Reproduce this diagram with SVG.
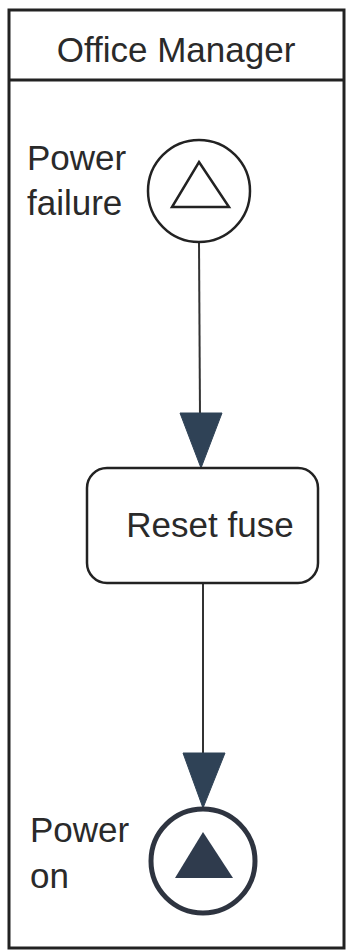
<svg xmlns="http://www.w3.org/2000/svg" width="347" height="951" viewBox="0 0 347 951">
<defs>
<style>
text{font-family:"Liberation Sans",Arial,sans-serif;font-size:35px;fill:#2a2a2a}
.ln{stroke:#333;stroke-width:2;fill:none}
.ah{fill:#2f4256;stroke:#2f4256;stroke-width:1}
</style>
</defs>
<rect width="347" height="951" fill="#fff"/>
<g id="lane">
<rect x="9" y="10" width="335" height="938" fill="none" stroke="#222" stroke-width="3"/>
<line x1="9" y1="80" x2="344" y2="80" stroke="#222" stroke-width="3"/>
<text x="176" y="62" text-anchor="middle">Office Manager</text>
</g>
<g id="connectors">
<line class="ln" x1="199" y1="242" x2="200" y2="415"/>
<polygon class="ah" points="180,413 222,413 201,468"/>
<line class="ln" x1="203" y1="583" x2="203" y2="755"/>
<polygon class="ah" points="183,753 225,753 203,808"/>
</g>
<g id="start">
<circle cx="199" cy="191" r="51" fill="#fff" stroke="#222" stroke-width="2.5"/>
<polygon points="199,162 229,207 172,207" fill="none" stroke="#222" stroke-width="2.5" stroke-linejoin="miter"/>
<text x="27" y="170">Power</text>
<text x="27" y="215">failure</text>
</g>
<g id="task">
<rect x="87" y="468" width="231" height="115" rx="20" fill="#fff" stroke="#222" stroke-width="2.5"/>
<text x="210" y="537" text-anchor="middle">Reset fuse</text>
</g>
<g id="end">
<circle cx="203" cy="861" r="52" fill="#fff" stroke="#2e3440" stroke-width="5"/>
<polygon points="203,832 233,878 175,878" fill="#2f3b4d"/>
<text x="30" y="842">Power</text>
<text x="30" y="888">on</text>
</g>
</svg>
